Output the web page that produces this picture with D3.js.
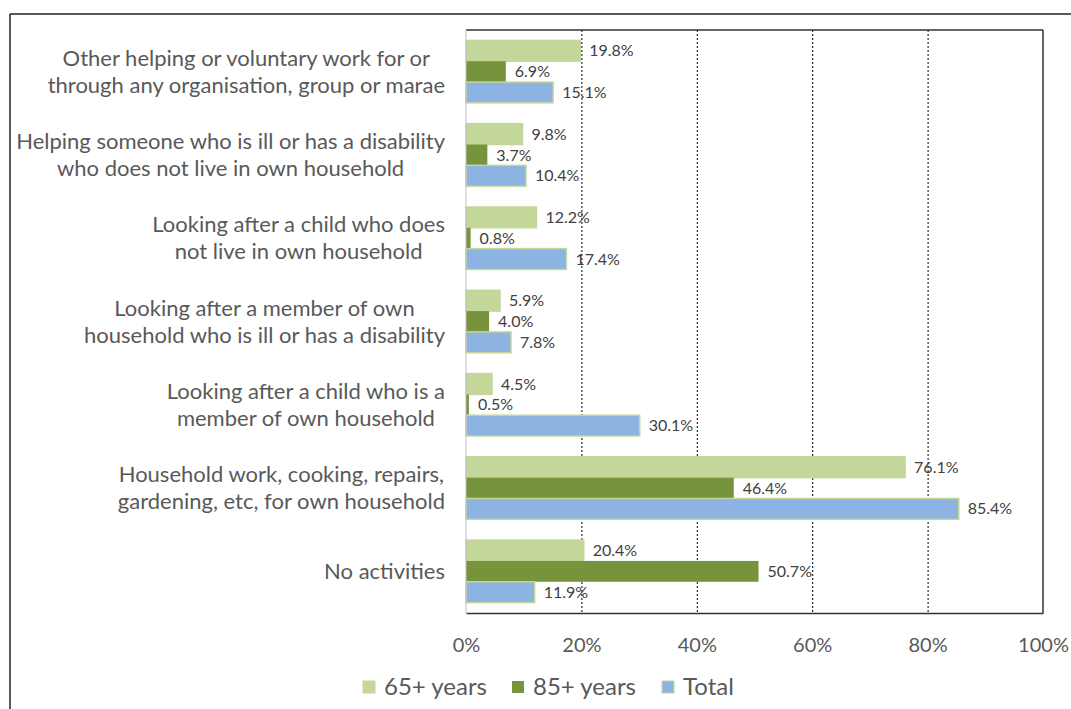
<!DOCTYPE html>
<html>
<head>
<meta charset="utf-8">
<script src="https://cdn.jsdelivr.net/npm/d3@7"></script>
<style>
  body { margin: 0; background: #fff; }
  svg { display: block; font-family: Lato, "Liberation Sans", sans-serif; }
</style>
</head>
<body>
<div id="chart"></div>
<script>
// categories, top to bottom (each line of a wrapped label is its own string)
var categories = [
  ["Other helping or voluntary work for or", "through any organisation, group or marae"],
  ["Helping someone who is ill or has a disability", "who does not live in own household"],
  ["Looking after a child who does", "not live in own household"],
  ["Looking after a member of own", "household who is ill or has a disability"],
  ["Looking after a child who is a", "member of own household"],
  ["Household work, cooking, repairs,", "gardening, etc, for own household"],
  ["No activities"]
]
var seriesNames = ["65+ years", "85+ years", "Total"]
var values65 = [19.8, 9.8, 12.2, 5.9, 4.5, 76.1, 20.4]
var values85 = [6.9, 3.7, 0.8, 4.0, 0.5, 46.4, 50.7]
var valuesTotal = [15.1, 10.4, 17.4, 7.8, 30.1, 85.4, 11.9]
var xTicks = [0, 20, 40, 60, 80, 100]

var colors = ["#c4d79b", "#77933c", "#8db3e2"]
var allValues = [values65, values85, valuesTotal]

var W = 1071, H = 709
var plotL = 466, plotR = 1043, plotT = 30, plotB = 613

var svg = d3.select("#chart").append("svg")
  .attr("width", W)
  .attr("height", H)

// outer frame (runs off the right and bottom edge)
svg.append("line").attr("x1", 10).attr("y1", 14).attr("x2", W).attr("y2", 14)
  .attr("stroke", "#222").attr("stroke-width", 1.5)
svg.append("line").attr("x1", 10).attr("y1", 14).attr("x2", 10).attr("y2", H)
  .attr("stroke", "#222").attr("stroke-width", 1.5)

var x = d3.scaleLinear().domain([0, 100]).range([plotL, plotR])
var y = d3.scaleBand().domain(d3.range(categories.length))
  .range([plotT, plotB]).paddingInner(0.25).paddingOuter(0.125)
var ySub = d3.scaleBand().domain(d3.range(seriesNames.length))
  .range([0, y.bandwidth()])

// dotted gridlines
svg.append("g").selectAll("line")
  .data(xTicks.slice(1, -1))
  .enter().append("line")
  .attr("x1", function(d) { return x(d) + 0.5 })
  .attr("x2", function(d) { return x(d) + 0.5 })
  .attr("y1", plotT).attr("y2", plotB)
  .attr("stroke", "#000").attr("stroke-width", 1)
  .attr("stroke-dasharray", "2,2")

// plot frame: top and right dark
svg.append("line").attr("x1", plotL).attr("x2", plotR).attr("y1", plotT).attr("y2", plotT)
  .attr("stroke", "#333").attr("stroke-width", 1.5)
svg.append("line").attr("x1", plotR).attr("x2", plotR).attr("y1", plotT).attr("y2", plotB)
  .attr("stroke", "#333").attr("stroke-width", 1.5)

// bars
var groups = svg.append("g").selectAll("g")
  .data(categories)
  .enter().append("g")
  .attr("transform", function(d, i) { return "translate(0," + y(i) + ")" })

groups.each(function(c, i) {
  var g = d3.select(this)
  seriesNames.forEach(function(s, j) {
    var v = allValues[j][i]
    g.append("rect")
      .attr("x", x(0))
      .attr("y", ySub(j))
      .attr("width", x(v) - x(0))
      .attr("height", ySub.bandwidth())
      .attr("fill", colors[j])
      .attr("stroke", j == 1 ? "none" : "#c4d79b")
      .attr("stroke-width", 1.5)
    g.append("text")
      .attr("x", x(v) + 9)
      .attr("y", ySub(j) + ySub.bandwidth() / 2)
      .attr("dy", "0.35em")
      .attr("font-size", 16)
      .attr("fill", "#404040")
      .text(v.toFixed(1) + "%")
  })
})

// x axis
var xAxis = d3.axisBottom(x).tickValues(xTicks)
  .tickFormat(function(d) { return d + "%" }).tickSize(0).tickPadding(25)
var ax = svg.append("g")
  .attr("transform", "translate(0," + plotB + ")")
  .call(xAxis)
ax.select(".domain").attr("stroke", "#333").attr("stroke-width", 1.5)
ax.selectAll("text").attr("font-size", 20).attr("fill", "#595959")
  .attr("font-family", "Lato, sans-serif")

// left axis line
svg.append("line").attr("x1", plotL).attr("x2", plotL).attr("y1", plotT).attr("y2", plotB)
  .attr("stroke", "#bfbfbf").attr("stroke-width", 1)

// category labels: block right aligned, lines centred in the block
var labelRight = 445
groups.each(function(c, i) {
  var g = d3.select(this)
  var lh = 27
  var cy = y.bandwidth() / 2
  var t = g.append("text")
    .attr("font-size", 22)
    .attr("fill", "#595959")
    .attr("text-anchor", "middle")
  var spans = c.map(function(line, k) {
    return t.append("tspan")
      .attr("y", cy + (k - (c.length - 1) / 2) * lh)
      .attr("dy", "0.35em")
      .text(line)
  })
  var maxW = d3.max(spans, function(s) { return s.node().getComputedTextLength() })
  spans.forEach(function(s) { s.attr("x", labelRight - maxW / 2) })
})

// legend
var legendX = [363, 512, 662]
var legend = svg.append("g").selectAll("g")
  .data(seriesNames)
  .enter().append("g")
  .attr("transform", function(d, i) { return "translate(" + legendX[i] + ",687)" })
legend.append("rect")
  .attr("x", 0).attr("y", -6).attr("width", 12).attr("height", 12)
  .attr("fill", function(d, i) { return colors[i] })
  .attr("stroke", function(d, i) { return i == 1 ? "none" : "#c4d79b" })
legend.append("text")
  .attr("x", 21).attr("dy", "0.35em")
  .attr("font-size", 24).attr("fill", "#595959")
  .text(function(d) { return d })
</script>
</body>
</html>
